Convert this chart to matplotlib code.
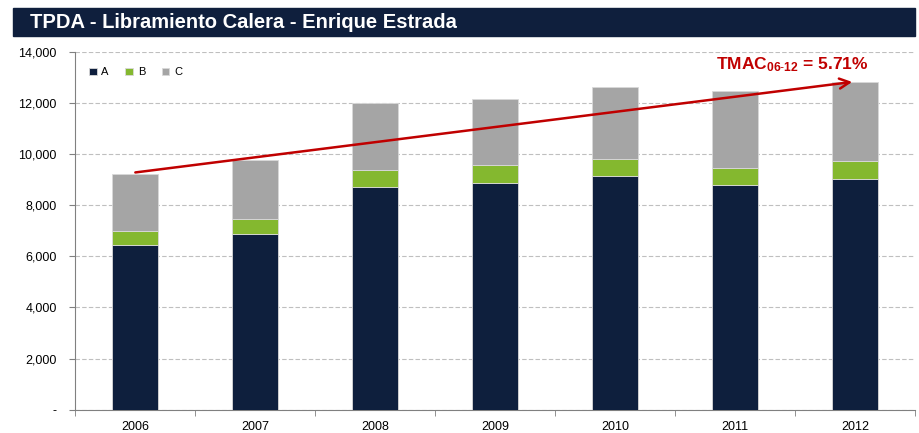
import numpy as np
import matplotlib.pyplot as plt
from matplotlib.ticker import FuncFormatter, FixedLocator
from matplotlib.patches import Rectangle

plt.rcParams['font.family'] = ['Liberation Sans', 'DejaVu Sans']
plt.rcParams['mathtext.fontset'] = 'custom'
plt.rcParams['mathtext.rm'] = 'Liberation Sans'
plt.rcParams['mathtext.bf'] = 'Liberation Sans:bold'

# data
years = ['2006', '2007', '2008', '2009', '2010', '2011', '2012']
tipo_a = [6440, 6890, 8700, 8890, 9160, 8780, 9030]
tipo_b = [550, 570, 660, 690, 640, 660, 690]
tipo_c = [2220, 2300, 2660, 2560, 2840, 3020, 3120]
tmac_label = r'$\mathbf{TMAC_{06\text{-}12}}$ = 5.71%'

navy = '#0E1F3D'
green = '#84B82F'
grey = '#A5A5A5'
red = '#C00000'

fig = plt.figure(figsize=(9.2, 4.33), dpi=100)
ax = fig.add_axes([0.0815, 0.054, 0.913, 0.826])

x = np.arange(len(years))
a = np.array(tipo_a)
b = np.array(tipo_b)
c = np.array(tipo_c)
w = 0.39
ax.bar(x, a, w, color=navy, edgecolor='#D9D9D9', linewidth=0.6, label='A', zorder=3)
ax.bar(x, b, w, bottom=a, color=green, edgecolor='#D9D9D9', linewidth=0.6, label='B', zorder=3)
ax.bar(x, c, w, bottom=a + b, color=grey, edgecolor='#D9D9D9', linewidth=0.6, label='C', zorder=3)

tot = a + b + c
# growth arrow from first to last total
ax.annotate('', xy=(x[-1], tot[-1]), xytext=(x[0] - 0.02, tot[0] + 60),
            arrowprops=dict(arrowstyle='->', color=red, lw=1.8, mutation_scale=18),
            zorder=5)
ax.text(x[-1] + 0.11, 13150, tmac_label, color=red, fontsize=12.5, fontweight='bold',
        ha='right', va='bottom', zorder=5)

ax.set_xlim(-0.5, len(years) - 0.5)
ax.set_ylim(0, 14000)
ax.set_yticks(np.arange(0, 14001, 2000))
ax.yaxis.set_major_formatter(FuncFormatter(lambda v, p: '-' if v == 0 else f'{int(v):,}'))
ax.grid(axis='y', color='#BFBFBF', linestyle=(0, (4, 2)), linewidth=0.8, zorder=0)

ax.set_xticks(x)
ax.set_xticklabels(years)
ax.xaxis.set_minor_locator(FixedLocator(np.arange(-0.5, len(years), 1.0)))
ax.tick_params(axis='x', which='major', length=0, labelsize=9, pad=8)
ax.tick_params(axis='x', which='minor', length=4, color='#808080')
ax.tick_params(axis='y', length=4, color='#808080', labelsize=9, pad=9)

for s in ['top', 'right']:
    ax.spines[s].set_visible(False)
ax.spines['left'].set_color('#808080')
ax.spines['bottom'].set_color('#808080')

leg = ax.legend(loc='upper left', bbox_to_anchor=(0.005, 0.985), ncol=3, frameon=False,
                fontsize=8, handlelength=0.7, handleheight=0.7, handletextpad=0.4,
                columnspacing=1.5)

# title bar
fig.patches.append(Rectangle((13 / 920, 1 - 36 / 433), 902 / 920, 28 / 433,
                             transform=fig.transFigure, color='#0F1F3D', zorder=0))
fig.text(30 / 920, 1 - 22 / 433, 'TPDA - Libramiento Calera - Enrique Estrada',
         color='white', fontsize=14.5, fontweight='bold', va='center', ha='left')

fig.savefig('out.png', dpi=100)
